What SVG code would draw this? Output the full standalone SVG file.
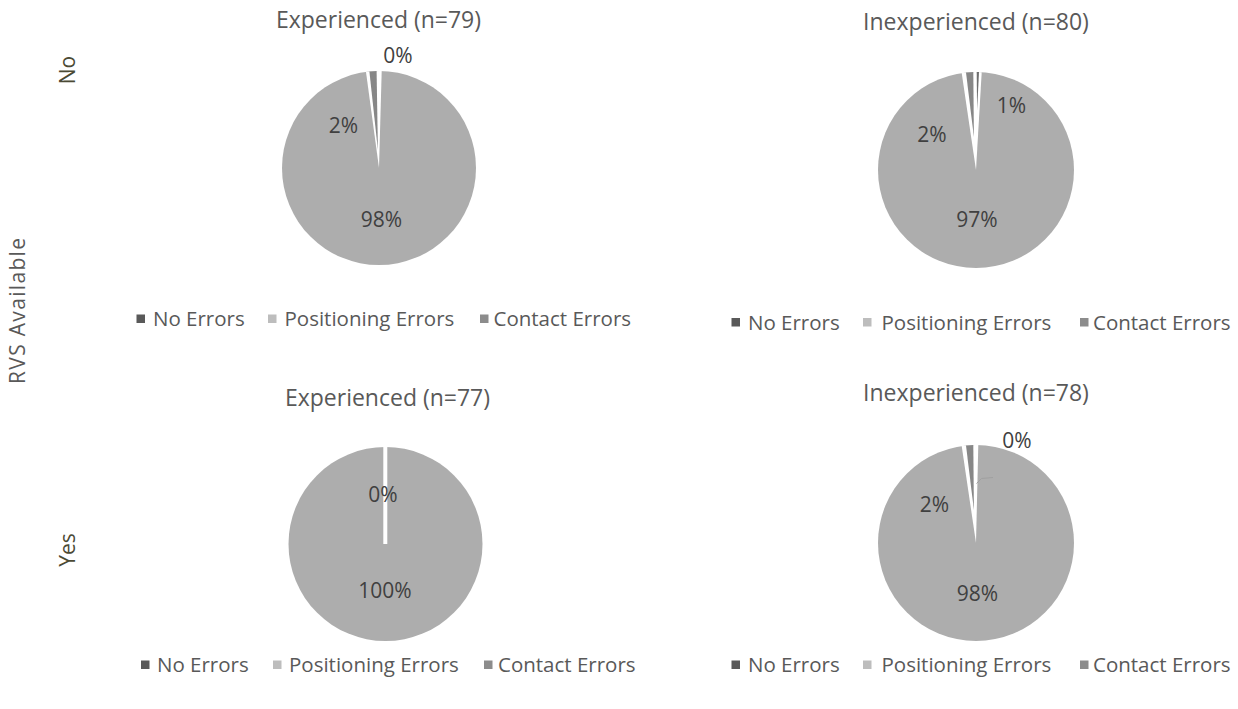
<svg xmlns="http://www.w3.org/2000/svg" width="1238" height="709" viewBox="0 0 1238 709">
  <style>
    text { font-family: "Open Sans", "Noto Sans", "DejaVu Sans", sans-serif; }
    .title { font-size: 23px; fill: #595959; text-anchor: middle; }
    .pct { font-size: 21px; fill: #404040; text-anchor: middle; }
    .leg { font-size: 20.5px; fill: #595959; }
    .axis { font-size: 21px; fill: #4B4A34; text-anchor: middle; }
    .axis-main { font-size: 21px; fill: #595959; text-anchor: middle; }
    .pos { fill: #ADADAD; }
    .contact { fill: #878787; }
    .none { fill: #6E6E6E; }
    .gap { fill: #FFFFFF; }
    .mk-none { fill: #595959; }
    .mk-pos { fill: #BDBDBD; }
    .mk-contact { fill: #8C8C8C; }
    .leader { fill: none; stroke: #A0A0A0; stroke-width: 1; }
  </style>

  <rect x="0" y="0" width="1238" height="709" fill="#FFFFFF"/>

  <!-- axis labels -->
  <g id="axis-labels">
    <text class="axis-main" transform="translate(25,311) rotate(-90)" textLength="146">RVS Available</text>
    <text class="axis" transform="translate(75,70) rotate(-90)">No</text>
    <text class="axis" transform="translate(75,550) rotate(-90)">Yes</text>
  </g>

  <!-- chart: No RVS, experienced -->
  <g id="chart-no-experienced">
    <text class="title" x="378.5" y="28">Experienced (n=79)</text>
    <circle class="pos" cx="379" cy="168" r="97"/>
    <path class="gap" d="M379,168 L366.0,71.9 A97,97 0 0,1 381.7,71.0 Z"/>
    <path class="contact" d="M377.9,150 L369.4,71.5 A97,97 0 0,1 376.6,71.0 Z"/>
    <text class="pct" x="398" y="63">0%</text>
    <text class="pct" x="343.5" y="133">2%</text>
    <text class="pct" x="381.5" y="227">98%</text>
    <g id="legend-no-experienced">
      <rect class="mk-none" x="136.5" y="314.5" width="8.5" height="8.5"/>
      <text class="leg" x="153" y="326">No Errors</text>
      <rect class="mk-pos" x="268" y="314.5" width="8.5" height="8.5"/>
      <text class="leg" x="284.5" y="326">Positioning Errors</text>
      <rect class="mk-contact" x="480" y="314.5" width="8.5" height="8.5"/>
      <text class="leg" x="493.5" y="326">Contact Errors</text>
    </g>
  </g>

  <!-- chart: No RVS, inexperienced -->
  <g id="chart-no-inexperienced">
    <text class="title" x="976" y="30">Inexperienced (n=80)</text>
    <circle class="pos" cx="976" cy="170" r="98"/>
    <path class="gap" d="M976,170 L961.7,73.0 A98,98 0 0,1 981.7,72.2 Z"/>
    <path class="contact" d="M973.9,137.1 L966.0,72.5 A98,98 0 0,1 973.3,72.0 Z"/>
    <path class="none" d="M977.1,110 L976.7,72.0 A98,98 0 0,1 979.0,72.1 Z"/>
    <text class="pct" x="1011.5" y="113">1%</text>
    <text class="pct" x="932" y="142">2%</text>
    <text class="pct" x="977" y="227">97%</text>
    <g id="legend-no-inexperienced">
      <rect class="mk-none" x="731.5" y="318" width="8.5" height="8.5"/>
      <text class="leg" x="748" y="330">No Errors</text>
      <rect class="mk-pos" x="863" y="318" width="8.5" height="8.5"/>
      <text class="leg" x="881.5" y="330">Positioning Errors</text>
      <rect class="mk-contact" x="1080" y="318" width="8.5" height="8.5"/>
      <text class="leg" x="1093" y="330">Contact Errors</text>
    </g>
  </g>

  <!-- chart: RVS available, experienced -->
  <g id="chart-yes-experienced">
    <text class="title" x="387.5" y="406">Experienced (n=77)</text>
    <circle class="pos" cx="385.5" cy="544" r="97"/>
    <line x1="385.3" y1="544" x2="385.3" y2="446" stroke="#FFFFFF" stroke-width="4"/>
    <text class="pct" x="383" y="502">0%</text>
    <text class="pct" x="385" y="598">100%</text>
    <g id="legend-yes-experienced">
      <rect class="mk-none" x="141" y="660.5" width="8.5" height="8.5"/>
      <text class="leg" x="157" y="672">No Errors</text>
      <rect class="mk-pos" x="273" y="660.5" width="8.5" height="8.5"/>
      <text class="leg" x="289" y="672">Positioning Errors</text>
      <rect class="mk-contact" x="484" y="660.5" width="8.5" height="8.5"/>
      <text class="leg" x="498" y="672">Contact Errors</text>
    </g>
  </g>

  <!-- chart: RVS available, inexperienced -->
  <g id="chart-yes-inexperienced">
    <text class="title" x="976" y="401">Inexperienced (n=78)</text>
    <circle class="pos" cx="976" cy="543" r="98"/>
    <path class="gap" d="M976,543 L961.7,446.0 A98,98 0 0,1 978.3,445.0 Z"/>
    <path class="contact" d="M973.9,510 L966.0,445.5 A98,98 0 0,1 973.3,445.0 Z"/>
    <polyline class="leader" points="976.5,483.5 981.5,478.5 993,477.5"/>
    <text class="pct" x="1017" y="448">0%</text>
    <text class="pct" x="934.5" y="512">2%</text>
    <text class="pct" x="977.5" y="601">98%</text>
    <g id="legend-yes-inexperienced">
      <rect class="mk-none" x="731.5" y="660.5" width="8.5" height="8.5"/>
      <text class="leg" x="748" y="672">No Errors</text>
      <rect class="mk-pos" x="863" y="660.5" width="8.5" height="8.5"/>
      <text class="leg" x="881.5" y="672">Positioning Errors</text>
      <rect class="mk-contact" x="1080" y="660.5" width="8.5" height="8.5"/>
      <text class="leg" x="1093" y="672">Contact Errors</text>
    </g>
  </g>
</svg>
